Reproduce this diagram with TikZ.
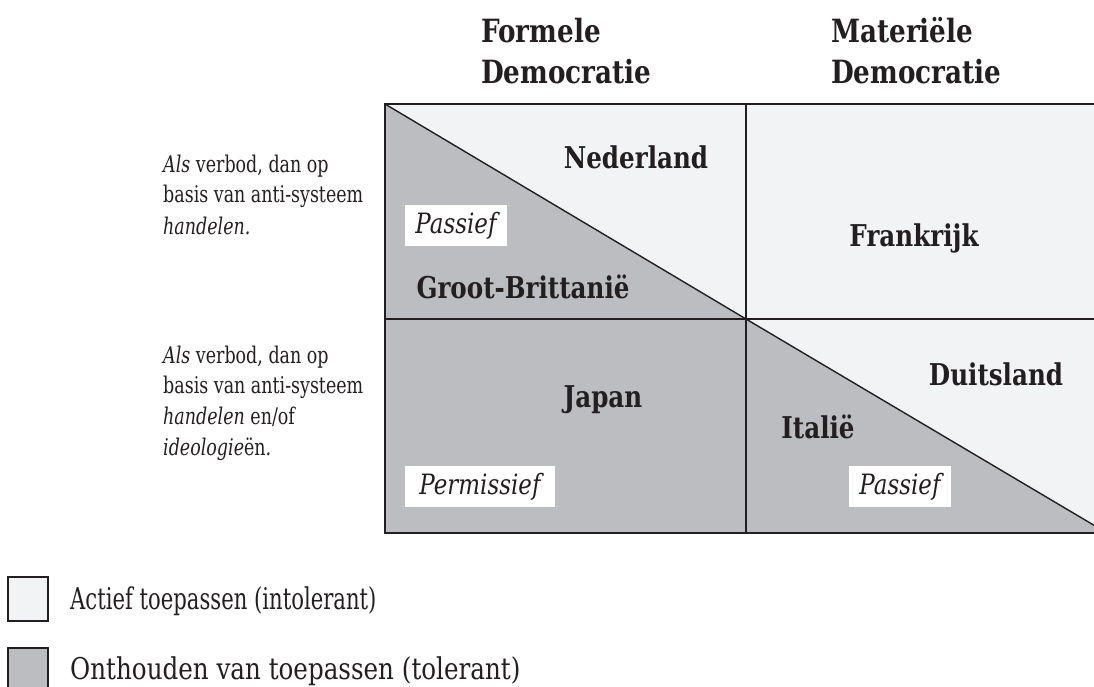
\documentclass[tikz,border=0pt]{standalone}
\usepackage{fontspec}
\usepackage{graphicx}
\setmainfont{DejaVu Serif}[FakeStretch=0.82]
\newfontfamily\bodyfont{DejaVu Serif}[FakeStretch=0.76]
\definecolor{light}{HTML}{F2F3F5}
\definecolor{dark}{HTML}{BCBDC1}
\definecolor{ink}{HTML}{231F20}
\tikzset{
  grid/.style={draw=ink, line width=1.8pt},
  diag/.style={draw=ink, line width=1.4pt},
  body/.style={font=\bodyfont\fontsize{23}{27}\selectfont, anchor=base west, inner sep=0pt, text=ink},
  legtext/.style={font=\fontsize{30}{34}\selectfont, anchor=base west, inner sep=0pt, text=ink},
  lab/.style={font=\bfseries\fontsize{30}{34}\selectfont, anchor=base, inner sep=0pt, text=ink},
  hdr/.style={font=\bfseries\fontsize{32}{36}\selectfont, anchor=base west, inner sep=0pt, text=ink},
  tag/.style={fill=white, inner sep=0pt, minimum height=41pt, font=\itshape\fontsize{28}{32}\selectfont, text=ink},
  legbox/.style={draw=ink, line width=1.8pt, minimum width=40pt, minimum height=44pt, inner sep=0pt}
}
\begin{document}
\begin{tikzpicture}[x=1pt,y=-1pt]
\useasboundingbox (0,0) rectangle (1094,687);
\clip (0,0) rectangle (1094,687);
% grid corners
\coordinate (TL) at (385,104); \coordinate (TM) at (746,104); \coordinate (TR) at (1107,104);
\coordinate (ML) at (385,319); \coordinate (MM) at (746,319); \coordinate (MR) at (1107,319);
\coordinate (BL) at (385,533); \coordinate (BM) at (746,533); \coordinate (BR) at (1107,533);
% fills
\fill[light] (TL) rectangle (BR);
\fill[dark] (TL) -- (ML) -- (MM) -- cycle;
\fill[dark] (ML) rectangle (BM);
\fill[dark] (MM) -- (BR) -- (BM) -- cycle;
% lines
\draw[diag] (TL) -- (MM);
\draw[diag] (MM) -- (BR);
\draw[grid] (TL) rectangle (BR);
\draw[grid] (TM) -- (BM);
\draw[grid] (ML) -- (MR);
% headers
\node[hdr] (h1a) at (481,43) {Formele};
\node[hdr] (h1b) at (481,84) {Democratie};
\node[hdr] (h2a) at (831,43) {Materiële};
\node[hdr] (h2b) at (831,84) {Democratie};
% row texts
\node[body] (r1a) at (163,173) {\textit{Als} verbod, dan op};
\node[body] (r1b) at (163,203) {basis van anti-systeem};
\node[body] (r1c) at (163,234) {\textit{handelen.}};
\node[body] (r2a) at (163,363) {\textit{Als} verbod, dan op};
\node[body] (r2b) at (163,393) {basis van anti-systeem};
\node[body] (r2c) at (163,424) {\textit{handelen} en/of};
\node[body] (r2d) at (163,455) {\textit{ideologie}ën\textit{.}};
% cell labels
\node[lab] (ned) at (636,168) {Nederland};
\node[lab] (gb) at (523,298) {Groot-Brittanië};
\node[lab] (fr) at (914,246) {Frankrijk};
\node[lab] (jp) at (603,407) {Japan};
\node[lab] (it) at (818,438) {Italië};
\node[lab] (de) at (996,385) {Duitsland};
% tags
\node[tag, minimum width=102pt] (p1) at (456,225.5) {Passief};
\node[tag, minimum width=150pt] (pm) at (480,486.5) {Permissief};
\node[tag, minimum width=102pt] (p2) at (900,486.5) {Passief};
% legend
\node[legbox, fill=light] (k1) at (28,599) {};
\node[legbox, fill=dark] (k2) at (28,670) {};
\node[legtext] (t1) at (70,609) {\scalebox{0.86}[1]{Actief toepassen (intolerant)}};
\node[legtext] (t2) at (70,679) {Onthouden van toepassen (tolerant)};
\end{tikzpicture}
\end{document}
